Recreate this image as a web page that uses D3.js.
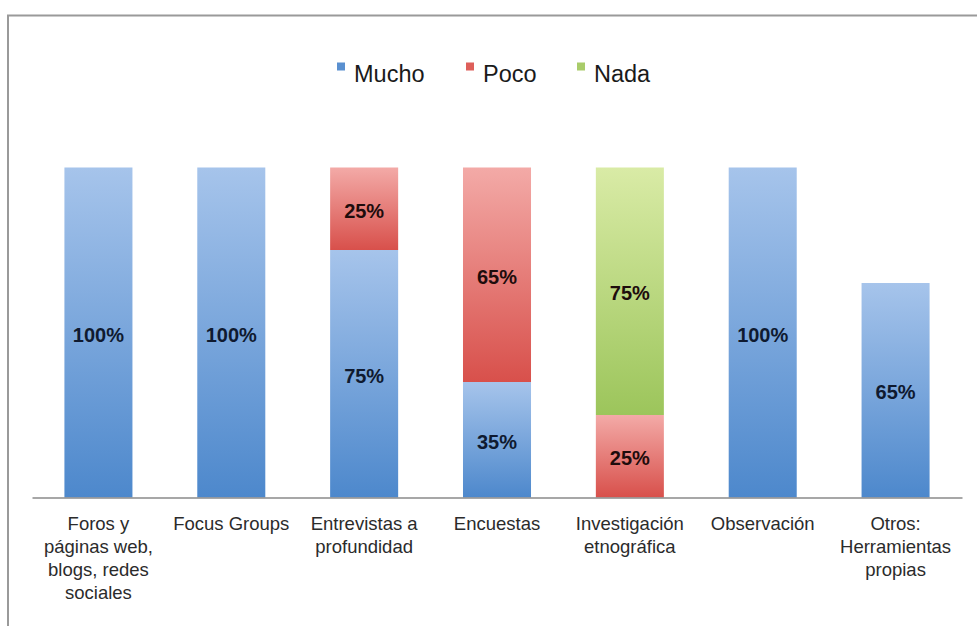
<!DOCTYPE html>
<html>
<head>
<meta charset="utf-8">
<script src="https://cdn.jsdelivr.net/npm/d3@7/dist/d3.min.js"></script>
<style>
  html, body { margin: 0; padding: 0; background: #fff; }
  svg { display: block; font-family: "Liberation Sans", Arial, Helvetica, sans-serif; }
</style>
</head>
<body>
<svg id="chart" width="977" height="626"></svg>
<script>
// Categories (line breaks mark the wrapped axis labels)
const categories = [
  "Foros y\npáginas web,\nblogs, redes\nsociales",
  "Focus Groups",
  "Entrevistas a\nprofundidad",
  "Encuestas",
  "Investigación\netnográfica",
  "Observación",
  "Otros:\nHerramientas\npropias"
];
const seriesNames = ["Mucho", "Poco", "Nada"];
const mucho = [100, 100, 75, 35, 0, 100, 65];
const poco  = [0, 0, 25, 65, 25, 0, 0];
const nada  = [0, 0, 0, 0, 75, 0, 0];

const seriesColors = {
  Mucho: { top: "#a6c4eb", bottom: "#4d88cc", legend: "#5a90d0" },
  Poco:  { top: "#f3aaa7", bottom: "#d8504b", legend: "#de5f5a" },
  Nada:  { top: "#d9eba6", bottom: "#9cc55b", legend: "#a9cc6a" }
};

const rows = categories.map((c, i) => ({ cat: c, Mucho: mucho[i], Poco: poco[i], Nada: nada[i] }));
const stacked = d3.stack().keys(seriesNames)(rows);

const svg = d3.select("#chart");

// frame
svg.append("rect")
  .attr("x", 8).attr("y", 15.5)
  .attr("width", 1000).attr("height", 700)
  .attr("fill", "#fff")
  .attr("stroke", "#9a9a9a").attr("stroke-width", 2);

const x = d3.scaleBand()
  .domain(categories)
  .range([32, 962])
  .paddingInner(0.488)
  .paddingOuter(0.244);

const y = d3.scaleLinear().domain([0, 100]).range([497.5, 167.5]);

// vertical gradients per series
const defs = svg.append("defs");
seriesNames.forEach(name => {
  const g = defs.append("linearGradient")
    .attr("id", "grad-" + name)
    .attr("x1", 0).attr("y1", 0).attr("x2", 0).attr("y2", 1);
  g.append("stop").attr("offset", "0%").attr("stop-color", seriesColors[name].top);
  g.append("stop").attr("offset", "100%").attr("stop-color", seriesColors[name].bottom);
});

// bars
const layers = svg.append("g").selectAll("g")
  .data(stacked)
  .join("g")
  .attr("fill", d => `url(#grad-${d.key})`);

layers.selectAll("rect")
  .data(d => d.map(s => ({ key: d.key, s })))
  .join("rect")
  .filter(d => d.s[1] - d.s[0] > 0)
  .attr("x", d => x(d.s.data.cat))
  .attr("y", d => y(d.s[1]))
  .attr("width", x.bandwidth())
  .attr("height", d => y(d.s[0]) - y(d.s[1]));

// value labels
const labels = [];
stacked.forEach(layer => layer.forEach(s => {
  const v = s[1] - s[0];
  if (v > 0) labels.push({ cat: s.data.cat, v, mid: (s[0] + s[1]) / 2, key: layer.key });
}));
svg.append("g").selectAll("text")
  .data(labels)
  .join("text")
  .attr("x", d => x(d.cat) + x.bandwidth() / 2)
  .attr("y", d => y(d.mid) + 9)
  .attr("text-anchor", "middle")
  .attr("font-size", 20)
  .attr("font-weight", "bold")
  .attr("fill", d => d.key === "Mucho" ? "#0f1a30" : "#1e0c0c")
  .text(d => d.v + "%");

// baseline axis
const axis = svg.append("g").attr("transform", `translate(0,${y(0)})`)
  .call(d3.axisBottom(x).tickSize(0).tickFormat(""));
axis.select(".domain").attr("stroke", "#8a8a8a").attr("stroke-width", 1.6);

// category labels
const catLabels = svg.append("g").selectAll("text")
  .data(categories)
  .join("text")
  .attr("x", d => x(d) + x.bandwidth() / 2)
  .attr("y", 530)
  .attr("text-anchor", "middle")
  .attr("font-size", 18.5)
  .attr("fill", "#2b2b2b");
catLabels.each(function(d) {
  const t = d3.select(this);
  d.split("\n").forEach((line, i) => {
    t.append("tspan")
      .attr("x", x(d) + x.bandwidth() / 2)
      .attr("dy", i === 0 ? 0 : 23)
      .text(line);
  });
});

// legend
const legendX = [337, 466, 577];
const legend = svg.append("g").selectAll("g")
  .data(seriesNames)
  .join("g")
  .attr("transform", (d, i) => `translate(${legendX[i]},0)`);
legend.append("rect")
  .attr("x", 0).attr("y", 62.5)
  .attr("width", 8).attr("height", 8)
  .attr("fill", d => seriesColors[d].legend);
legend.append("text")
  .attr("x", 17).attr("y", 81.5)
  .attr("font-size", 23.5)
  .attr("fill", "#1a1a1a")
  .text(d => d);
</script>
</body>
</html>
